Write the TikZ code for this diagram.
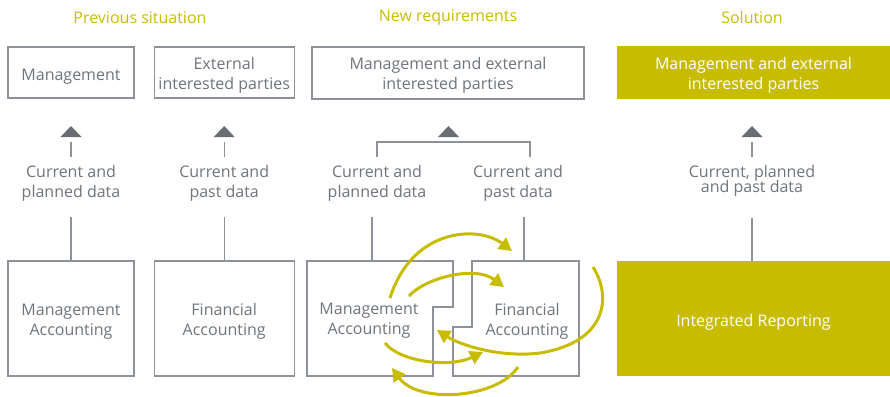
\documentclass[tikz,border=0pt]{standalone}
\usepackage{fontspec}
\setmainfont{Open Sans}
\usetikzlibrary{arrows.meta, positioning}
\definecolor{txtgray}{RGB}{110,116,122}
\definecolor{linegray}{RGB}{140,146,152}
\definecolor{trigray}{RGB}{104,110,116}
\definecolor{irgreen}{RGB}{200,188,0}

\tikzset{
  box/.style={draw=linegray, line width=1.2pt, text=txtgray, align=center, inner sep=0pt,
    execute at begin node={\rule{0pt}{#1}}},
  box/.default=37pt,
  solbox/.style={fill=irgreen, text=white, align=center, inner sep=0pt,
    execute at begin node={\rule{0pt}{#1}}},
  solbox/.default=37pt,
  datalab/.style={text=txtgray, align=center, inner sep=0pt, outer sep=9pt},
  title/.style={text=irgreen},
  link/.style={draw=linegray, line width=1.2pt},
  flow/.style={draw=irgreen, line width=3pt, -{Triangle[length=13pt, width=14pt]}}
}

\begin{document}
\begin{tikzpicture}[x=1pt, y=-1pt, font=\fontsize{16}{20}\selectfont]
  \useasboundingbox (0,0) rectangle (890,396);

  % column titles
  \node[title] (prev)   at (140,18) {Previous situation};
  \node[title] (newreq) at (448,18) {New requirements};
  \node[title] (sol)    at (752,18) {Solution};

  % receivers
  \node[box=19pt, minimum width=126pt, minimum height=51pt] (mgmt) at (71,72.5) {Management};
  \node[box, minimum width=140pt, minimum height=51pt] (ext)  [right=19pt of mgmt] {External\\interested parties};
  \node[box, minimum width=272pt, minimum height=52pt] (mext) at (448,73) {Management and external\\interested parties};
  \node[solbox, minimum width=273pt, minimum height=53pt] (solt) at (753.5,72.5) {Management and external\\interested parties};

  % sources
  \node[box, minimum width=126pt, minimum height=115pt] (mab) at (71,318.5) {Management\\Accounting};
  \node[box, minimum width=140pt, minimum height=115pt] (fab) [right=19pt of mab] {Financial\\Accounting};
  \node[solbox=19pt, minimum width=273pt, minimum height=115pt] (irep) at (753.5,318.5) {Integrated Reporting};

  \draw[link] (307,261) -- (453,261) -- (453,307) -- (433,307) -- (433,376) -- (307,376) -- cycle;
  \draw[link] (472,261) -- (579,261) -- (579,376) -- (453,376) -- (453,327) -- (472,327) -- cycle;
  \node[text=txtgray, align=center] (mat) at (369,321) {Management\\Accounting};
  \node[text=txtgray, align=center] (fat) at (527,321) {Financial\\Accounting};

  % data labels
  \coordinate (tri1) at (71,131.5);
  \coordinate (tri2) at (ext |- tri1);
  \coordinate (tri3) at (448.5,131.5);
  \coordinate (tri4) at (752,131.5);
  \node[datalab] (cpd1) at (71,183.8) {Current and\\planned data};
  \node[datalab] (cpd2) at (tri2 |- cpd1) {Current and\\past data};
  \node[datalab] (cpd3) at (377,183.8) {Current and\\planned data};
  \node[datalab] (cpd4) at (518,183.8) {Current and\\past data};
  \node[datalab] (cpd7) at (752,181.3) {Current, planned\\[-5pt]and past data};

  \foreach \t in {tri1,tri2,tri3,tri4}
    \fill[trigray] (\t) +(-10.5,5.5) -- +(10.5,5.5) -- +(0,-5.5) -- cycle;

  % connectors
  \draw[link, shorten >=10.5pt] (cpd1) -- (tri1);
  \draw[link, shorten <=6pt] (cpd1) -- (mab);
  \draw[link, shorten >=10.5pt] (cpd2) -- (tri2);
  \draw[link, shorten <=6pt] (cpd2.south) -- (cpd2.south |- fab.north);
  \coordinate (brkL) at (377,142);
  \coordinate (brkR) at (530,142);
  \draw[link] (cpd3.north -| brkL) -- (brkL) -- (brkR) -- (cpd4.north -| brkR);
  \coordinate (mtop) at (372,261);
  \coordinate (ftop) at (524,261);
  \draw[link, shorten <=6pt] (cpd3.south -| mtop) -- (mtop);
  \draw[link, shorten <=6pt] (cpd4.south -| ftop) -- (ftop);
  \draw[link, shorten >=10.5pt] (cpd7) -- (tri4);
  \draw[link, shorten <=12pt] (cpd7.south) -- (cpd7.south |- irep.north);

  % exchange between the two accountings
  \draw[flow] (390,298) .. controls (412,228) and (478,225) .. (512,251);
  \draw[flow] (409,296) .. controls (425,278) and (475,265) .. (504,287);
  \draw[flow] (593,267) .. controls (612,297) and (607,342) .. (540,353)
                        .. controls (500,358) and (460,345) .. (437,330);
  \draw[flow] (385,343) .. controls (400,362) and (450,368) .. (483,352);
  \draw[flow] (518,367) .. controls (497,399) and (418,404) .. (392,368);
\end{tikzpicture}
\end{document}
